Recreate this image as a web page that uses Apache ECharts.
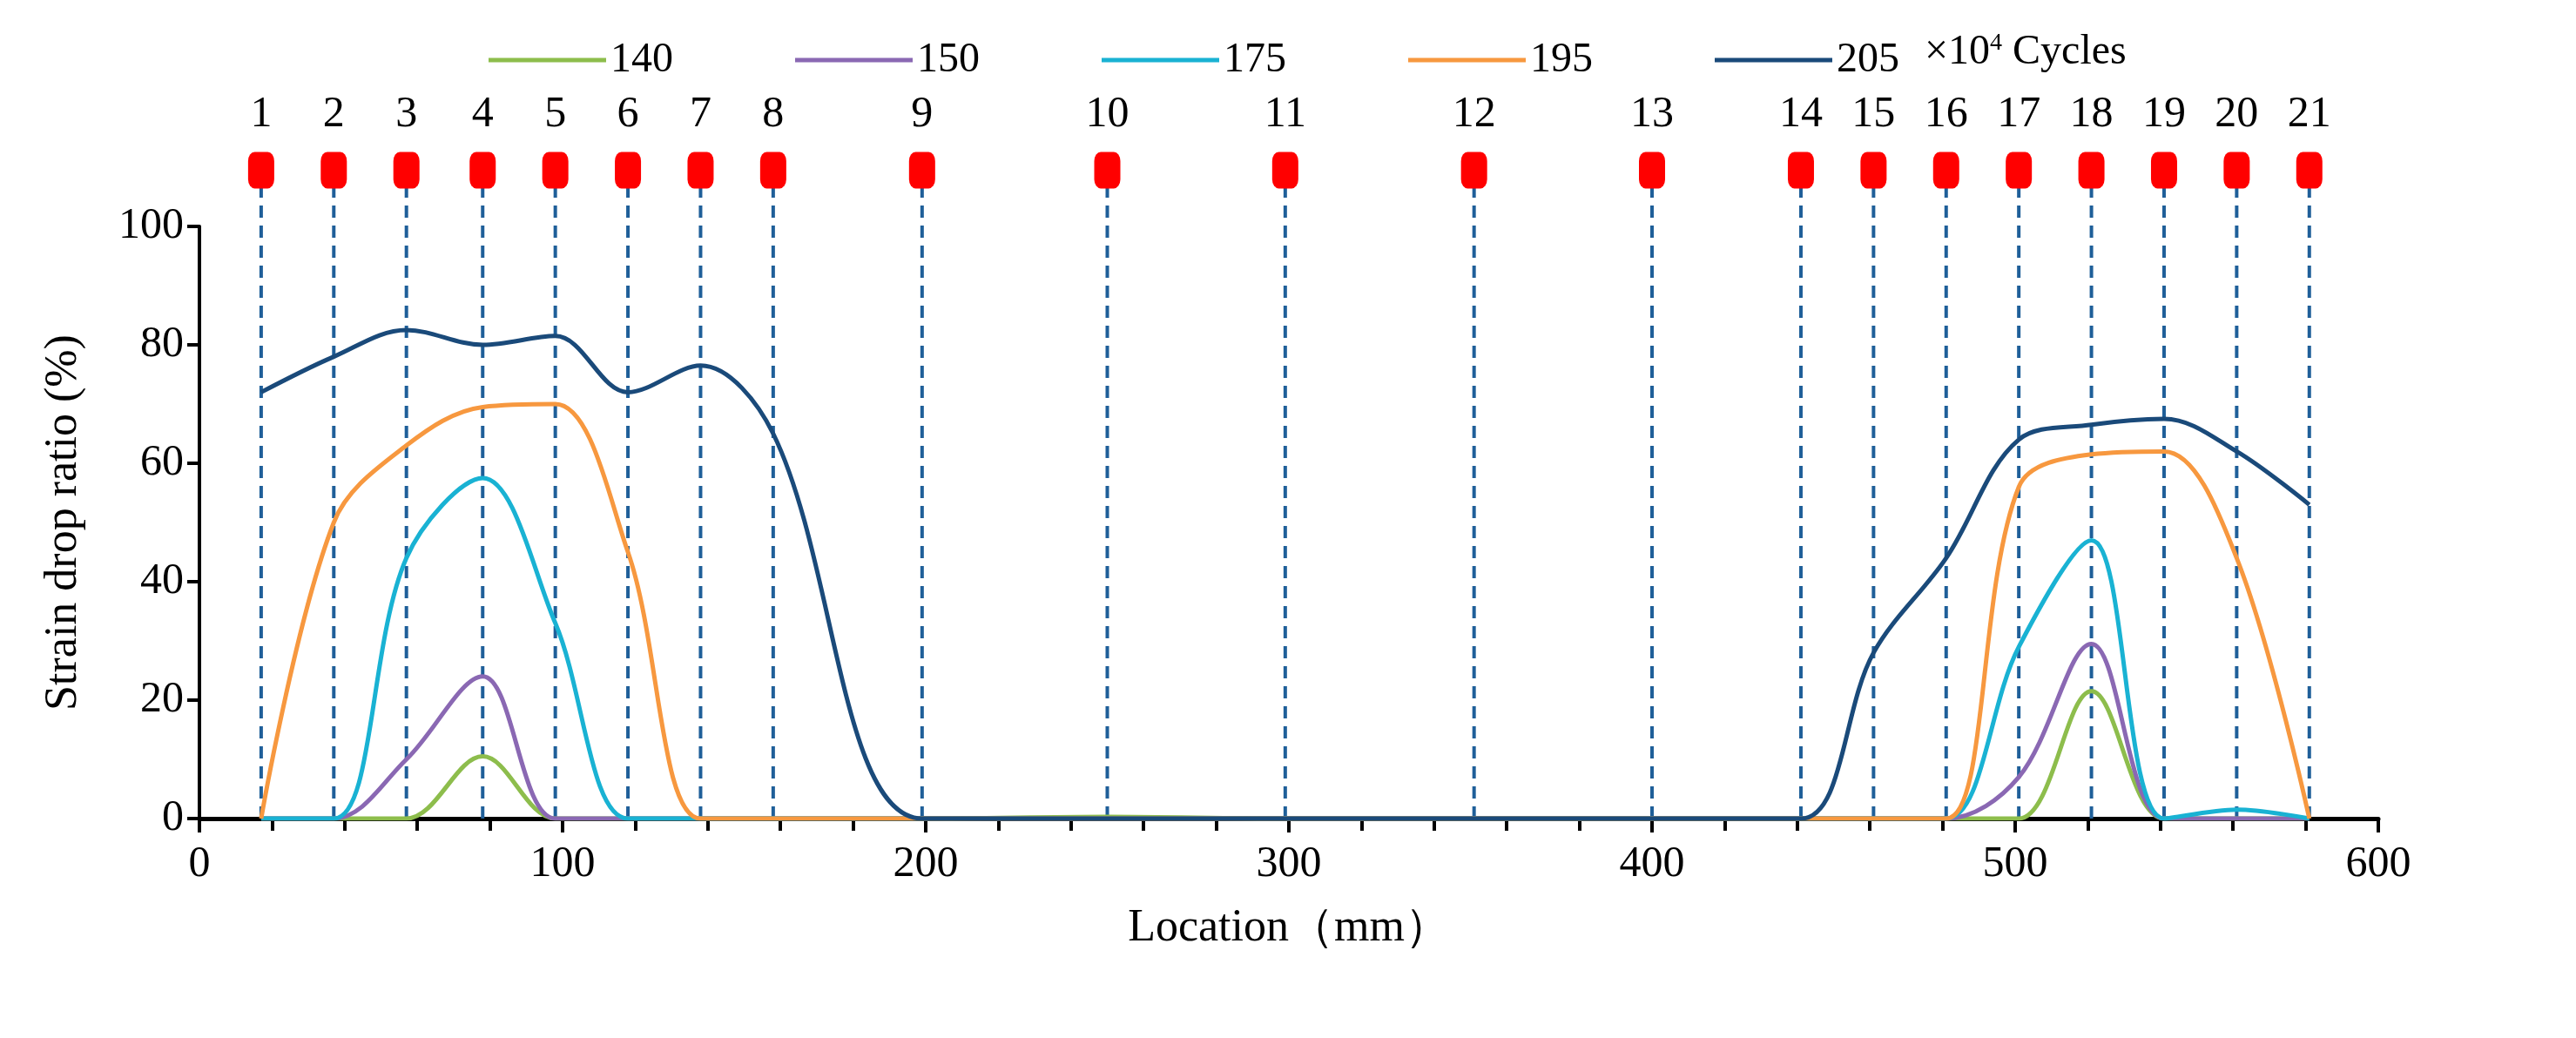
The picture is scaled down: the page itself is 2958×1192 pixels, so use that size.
<!DOCTYPE html>
<html><head><meta charset="utf-8">
<script src="https://cdn.jsdelivr.net/npm/echarts@6/dist/echarts.min.js"></script>
<style>html,body{margin:0;background:#fff}#chart{width:2958px;height:1192px}</style>
</head><body><div id="chart"></div>
<script>
// sensor locations (mm)
var sensorX = [17, 37, 57, 78, 98, 118, 138, 158, 199, 250, 299, 351, 400, 441, 461, 481, 501, 521, 541, 561, 581];
var sensorNames = ['1','2','3','4','5','6','7','8','9','10','11','12','13','14','15','16','17','18','19','20','21'];
var cycleNames = ['140', '150', '175', '195', '205'];
var colors = ['#8dbd4c', '#8a68b3', '#19b2d3', '#f7983f', '#1a4a7a'];
// strain drop ratio (%) at each sensor
var v140 = [0, 0, 0, 10.5, 0, 0, 0, 0, 0, 0.3, 0, 0, 0, 0, 0, 0, 0, 21.5, 0, 0, 0];
var v150 = [0, 0, 10, 24, 0, 0, 0, 0, 0, 0, 0, 0, 0, 0, 0, 0, 7, 29.5, 0, 0, 0];
var v175 = [0, 0, 44, 57.5, 33, 0, 0, 0, 0, 0, 0, 0, 0, 0, 0, 0, 29, 47, 0, 1.5, 0];
var v195 = [0, 50, 63, 69.5, 70, 45, 0, 0, 0, 0, 0, 0, 0, 0, 0, 0, 56, 61.5, 62, 44, 0];
var v205 = [72, 78, 82.5, 80, 81.5, 72, 76.5, 65, 0, 0, 0, 0, 0, 0, 28, 44, 64, 66.5, 67.5, 62, 53];
var allVals = [v140, v150, v175, v195, v205];

var font = 'Liberation Serif';
var chart = echarts.init(document.getElementById('chart'));
var series = [];
// dashed guide lines at each sensor
sensorX.forEach(function (x) {
  series.push({
    type: 'line', symbol: 'none', clip: false, silent: true, z: 1,
    lineStyle: {type: [14, 9], width: 4, color: '#1f5f99'},
    data: [[x, 0], [x, 107]]
  });
});
cycleNames.forEach(function (n, i) {
  series.push({
    name: n, type: 'line', smooth: 0.35, symbol: 'none', z: 3 + i,
    lineStyle: {width: 5, color: colors[i]}, itemStyle: {color: colors[i]},
    data: sensorX.map(function (x, k) { return [x, allVals[i][k]]; })
  });
});
series.push({
  type: 'scatter', symbol: 'roundRect', symbolSize: [30, 42], clip: false, z: 10,
  itemStyle: {color: '#ff0000', opacity: 1},
  label: {show: true, position: 'top', distance: 18, fontFamily: font, fontSize: 50, color: '#000',
    formatter: function (p) { return sensorNames[p.dataIndex]; }},
  data: sensorX.map(function (x) { return [x, 109.5]; })
});

chart.setOption({
  animation: false,
  legend: {
    top: 40, left: 556, itemWidth: 135, itemHeight: 5, itemGap: 140,
    data: cycleNames, icon: 'rect',
    textStyle: {fontFamily: font, fontSize: 48, color: '#000'}
  },
  graphic: [{type: 'text', left: 2210, top: 36,
    style: {text: '×10{s|4} Cycles', font: '48px "Liberation Serif"', fill: '#000',
      rich: {s: {fontSize: 28, verticalAlign: 'top', fontFamily: font}}}}],
  grid: {left: 229, right: 227, top: 260, bottom: 252},
  xAxis: {
    type: 'value', min: 0, max: 600, interval: 100,
    name: 'Location（mm）', nameLocation: 'middle', nameGap: 100,
    nameTextStyle: {fontFamily: font, fontSize: 52, color: '#000'},
    axisLine: {lineStyle: {color: '#000', width: 5}},
    axisTick: {inside: false, length: 16, lineStyle: {width: 4, color: '#000'}},
    minorTick: {show: true, splitNumber: 5, length: 14, lineStyle: {width: 4, color: '#000'}},
    axisLabel: {fontFamily: font, fontSize: 50, color: '#000', margin: 28},
    splitLine: {show: false}
  },
  yAxis: {
    type: 'value', min: 0, max: 100, interval: 20,
    name: 'Strain drop ratio (%)', nameLocation: 'middle', nameGap: 130,
    nameTextStyle: {fontFamily: font, fontSize: 52, color: '#000'},
    axisLine: {show: true, lineStyle: {color: '#000', width: 4}},
    axisTick: {show: true, length: 14, lineStyle: {width: 4, color: '#000'}},
    axisLabel: {fontFamily: font, fontSize: 50, color: '#000', margin: 18},
    splitLine: {show: false}
  },
  series: series
});
</script></body></html>
